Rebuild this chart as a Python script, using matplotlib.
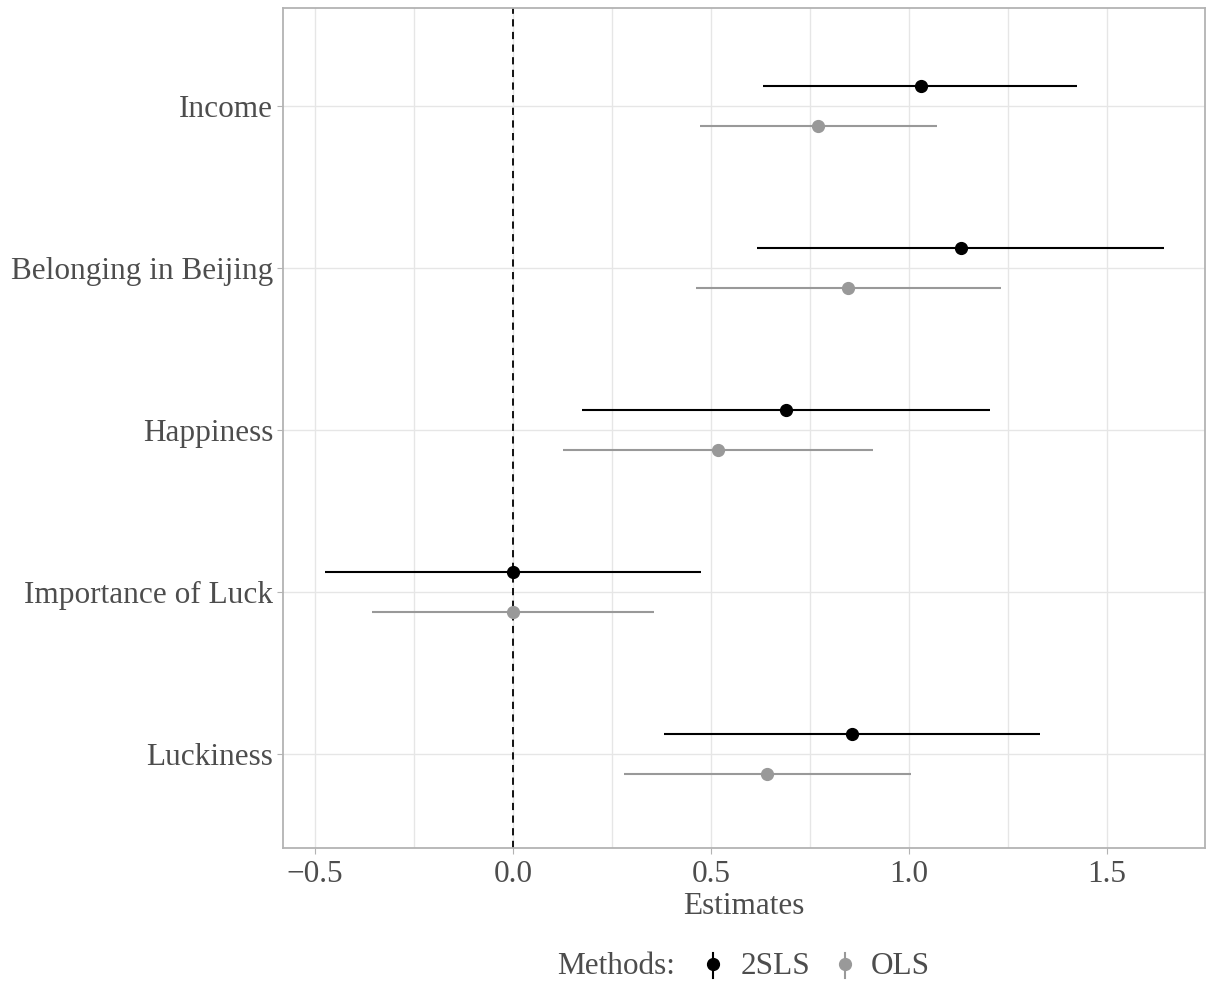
import matplotlib.pyplot as plt
from matplotlib.lines import Line2D
import numpy as np

plt.rcParams['font.family'] = ['Liberation Serif', 'DejaVu Serif']

# outcomes from top to bottom
outcomes = ["Income", "Belonging in Beijing", "Happiness", "Importance of Luck", "Luckiness"]

# 2SLS estimates with interval bounds
est_2sls = [1.030, 1.131, 0.689, 0.000, 0.856]
lo_2sls = [0.631, 0.616, 0.174, -0.475, 0.381]
hi_2sls = [1.424, 1.644, 1.205, 0.475, 1.331]

# OLS estimates with interval bounds
est_ols = [0.770, 0.846, 0.518, 0.000, 0.641]
lo_ols = [0.472, 0.462, 0.126, -0.356, 0.280]
hi_ols = [1.071, 1.232, 0.909, 0.356, 1.005]

methods = ["2SLS", "OLS"]
method_cols = ["black", "#999999"]

text_col = "#4d4d4d"
grid_col = "#e6e6e6"
fs = 22.5

W, H = 1209, 984
fig = plt.figure(figsize=(W / 100, H / 100), dpi=100)
ax = fig.add_axes([283 / W, 1 - 848 / H, (1205 - 283) / W, (848 - 8) / H])

ypos = np.arange(len(outcomes))[::-1] + 1.0
dodge = 0.125

ax.hlines(ypos + dodge, lo_2sls, hi_2sls, color=method_cols[0], lw=1.5, zorder=3)
ax.plot(est_2sls, ypos + dodge, "o", color=method_cols[0], ms=8.5, zorder=4)
ax.hlines(ypos - dodge, lo_ols, hi_ols, color=method_cols[1], lw=1.5, zorder=3)
ax.plot(est_ols, ypos - dodge, "o", color=method_cols[1], ms=8.5, zorder=4)

ax.axvline(0, color="black", ls=(0, (4, 3)), lw=1.3, zorder=2)

ax.set_xlim(-0.581, 1.747)
ax.set_ylim(0.42, 5.605)
ax.set_xticks([-0.5, 0.0, 0.5, 1.0, 1.5])
ax.set_xticklabels(["\u22120.5", "0.0", "0.5", "1.0", "1.5"])
ax.set_xticks([-0.25, 0.25, 0.75, 1.25], minor=True)
ax.set_yticks(ypos)
ax.set_yticklabels(outcomes)

ax.grid(True, which="major", color=grid_col, lw=1.0, zorder=0)
ax.grid(True, which="minor", axis="x", color=grid_col, lw=1.0, zorder=0)
ax.set_axisbelow(True)

for sp in ax.spines.values():
    sp.set_color("#b3b3b3")
    sp.set_linewidth(1.3)

ax.tick_params(axis="both", which="major", length=4, color="#b3b3b3",
               labelsize=fs, labelcolor=text_col, pad=3)
ax.tick_params(axis="x", which="major", pad=5)
ax.tick_params(axis="both", which="minor", length=0)

ax.set_xlabel("Estimates", fontsize=fs, color=text_col, labelpad=2)

# legend row at the bottom: title, then pointrange keys
ly = 1 - 966 / H
fig.text(557 / W, ly, "Methods:", fontsize=fs, color=text_col, va="center", ha="left")
key_x = [713, 845]
lab_x = [741, 871]
for m, c, kx, tx in zip(methods, method_cols, key_x, lab_x):
    fig.add_artist(Line2D([kx / W, kx / W], [1 - 953 / H, 1 - 978 / H],
                          color=c, lw=1.5, transform=fig.transFigure))
    fig.add_artist(Line2D([kx / W], [1 - 964 / H], marker="o", ms=8.5, color=c,
                          ls="none", transform=fig.transFigure))
    fig.text(tx / W, ly, m, fontsize=fs, color=text_col, va="center", ha="left")

fig.savefig("out.png", dpi=100)
